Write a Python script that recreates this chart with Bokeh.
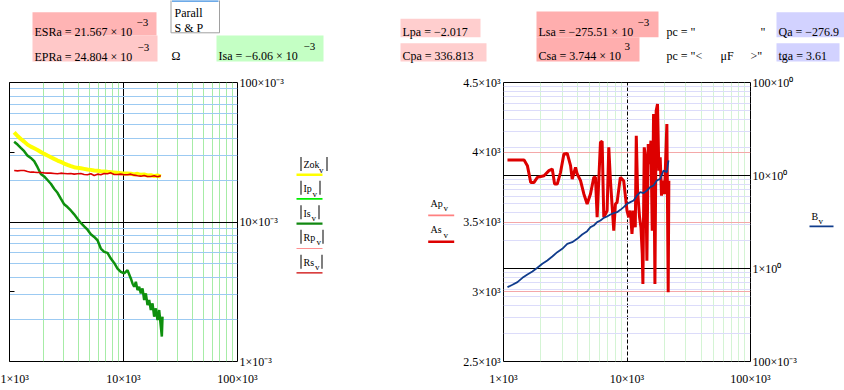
from bokeh.plotting import figure
from bokeh.models import (Range1d, LogScale, LinearScale, LinearAxis, LogAxis,
                          FixedTicker, Grid, Label, BoxAnnotation)
from bokeh.layouts import column, row
from bokeh.embed import file_html
from bokeh.resources import INLINE

# ---------------- data ----------------
freq_l = [1099, 1176, 1257, 1345, 1439, 1538, 1646, 1761, 1883, 2014, 2154, 2305, 2465, 2637, 2820,
          3017, 3227, 3451, 3692, 3949, 4224, 4518, 4833, 5170, 5530, 5915, 6327, 6768, 7240, 7743,
          8283, 8860, 9476, 10136, 10842, 11597, 12405, 13269, 14193, 15182, 16240, 17371, 18581,
          19875, 21259]
zok_v = [0.04394, 0.04135, 0.03937, 0.03769, 0.03587, 0.03471, 0.03377, 0.03286, 0.03180, 0.03077,
         0.02994, 0.02913, 0.02834, 0.02758, 0.02698, 0.02624, 0.02567, 0.02512, 0.02471, 0.02444,
         0.02430, 0.02404, 0.02378, 0.02364, 0.02338, 0.02326, 0.02313, 0.02301, 0.02288, 0.02276,
         0.02264, 0.02251, 0.02239, 0.02227, 0.02227, 0.02215, 0.02191, 0.02215, 0.02179, 0.02191,
         0.02155, 0.02167, 0.02131, 0.02155, 0.02120]
rs_v = [0.02338, 0.02326, 0.02338, 0.02338, 0.02301, 0.02276, 0.02276, 0.02264, 0.02264, 0.02251,
        0.02239, 0.02239, 0.02227, 0.02215, 0.02239, 0.02227, 0.02215, 0.02227, 0.02203, 0.02215,
        0.02227, 0.02191, 0.02179, 0.02215, 0.02155, 0.02203, 0.02179, 0.02227, 0.02215, 0.02251,
        0.02191, 0.02191, 0.02203, 0.02179, 0.02179, 0.02203, 0.02167, 0.02143, 0.02131, 0.02155,
        0.02120, 0.02120, 0.02143, 0.02108, 0.02143]
freq_g = [1099, 1176, 1257, 1345, 1439, 1538, 1646, 1761, 1883, 2014, 2154, 2305, 2465, 2637, 2820,
          3017, 3227, 3451, 3692, 3949, 4224, 4518, 4833, 5170, 5530, 5915, 6327, 6768, 7240, 7743,
          8283, 8860, 9476, 10136, 10842, 11597, 11993, 12405, 12833, 13269, 13728, 14193, 14678,
          15182, 15700, 16240, 16795, 17371, 17967, 18581, 19214, 19875, 20557, 21259, 21695, 21987]
is_v = [0.0376, 0.0359, 0.0340, 0.0322, 0.0299, 0.0288, 0.0273, 0.0247, 0.0221, 0.0212,
        0.0200, 0.0188, 0.0173, 0.0162, 0.0147, 0.0134, 0.0128, 0.0121, 0.01135, 0.01056,
        0.00984, 0.00931, 0.00881, 0.00816, 0.00781, 0.00740, 0.00645, 0.00611, 0.00601, 0.00547,
        0.00509, 0.00464, 0.00439, 0.00428, 0.00451, 0.003937, 0.003627, 0.003433, 0.003728,
        0.003249, 0.003433, 0.003076, 0.003340, 0.002758, 0.003076, 0.002540, 0.002758, 0.002339,
        0.002610, 0.002096, 0.002404, 0.001984, 0.002339, 0.001778, 0.001509, 0.002096]

freq_a = [1077, 1468, 1561, 1661, 1767, 1880, 2128, 2334, 2483, 2593, 2724, 2897, 3083, 3282, 3491,
          3600, 3831, 3953, 4205, 4474, 4757, 5062, 5386, 5556, 5731, 6097, 6289, 6487, 6902, 7120,
          7344, 7813, 8059, 8313, 8831, 9400, 10000, 10310, 10640, 10970, 11310, 11670, 11890, 12180,
          12640, 12970, 13290, 13450, 13790, 14130, 14490, 14860, 15230, 15620, 16010, 16410, 16830,
          17230, 17660, 18110, 18570, 19030, 19500, 20120, 21030, 21560, 21820]
as_v = [3944, 3944, 3904, 3784, 3784, 3820, 3832, 3868, 3880, 3772, 3772, 3856, 3987, 3992, 3904,
        3808, 3892, 3844, 3796, 3701, 3629, 3701, 3820, 3820, 3534, 4071, 4078, 3534, 3581, 4035,
        3796, 3438, 3629, 3641, 3820, 3796, 3581, 3534, 3581, 3415, 3581, 3462, 4118, 3725,
        3534, 3462, 3271, 3056, 4035, 3963, 3223, 4059, 3915, 4083, 3438, 4274, 3056,
        4297, 4345, 3868, 3963, 3689, 3796, 3701, 4202, 2996, 3796]
freq_b = [1077, 1182, 1297, 1423, 1562, 1714, 1880, 2063, 2264, 2484, 2726, 2991, 3282, 3601, 3952,
          4336, 4758, 5063, 5386, 5730, 6097, 6485, 6899, 7340, 7809, 8307, 8838, 9400, 10000, 10640,
          11318, 12040, 12808, 13625, 14495, 15420, 16404, 17451, 18564, 19749, 21009, 21670]
b_v = [0.630, 0.668, 0.713, 0.794, 0.862, 0.928, 1.017, 1.123, 1.219, 1.346, 1.498, 1.627, 1.842,
       1.920, 2.085, 2.321, 2.520, 2.782, 2.900, 3.149, 3.282, 3.506, 3.624, 3.808, 3.936, 4.034,
       4.274, 4.565, 4.959, 5.168, 5.386, 6.095, 6.621, 6.457, 6.897, 7.492, 7.807, 8.837, 9.210,
       11.32, 10.86, 14.50]

x_ticks = [1000, 10000, 100000]
x_minor = [2000, 3000, 4000, 5000, 6000, 7000, 8000, 9000,
           20000, 30000, 40000, 50000, 60000, 70000, 80000, 90000]
x_labels = {1000: "1×10³", 10000: "10×10³", 100000: "100×10³"}
yl_ticks = [0.001, 0.01, 0.1]
yl_minor = [0.002, 0.003, 0.004, 0.005, 0.006, 0.007, 0.008, 0.009,
            0.02, 0.03, 0.04, 0.05, 0.06, 0.07, 0.08, 0.09]
yl_labels = {0.001: "1×10⁻³", 0.01: "10×10⁻³", 0.1: "100×10⁻³"}
ya_ticks = [2500, 3000, 3500, 4000, 4500]
ya_labels = {2500: "2.5×10³", 3000: "3×10³", 3500: "3.5×10³", 4000: "4×10³", 4500: "4.5×10³"}
yb_ticks = [0.1, 1, 10, 100]
yb_minor = [0.2, 0.3, 0.4, 0.5, 0.6, 0.7, 0.8, 0.9, 2, 3, 4, 5, 6, 7, 8, 9,
            20, 30, 40, 50, 60, 70, 80, 90]
yb_labels = {0.1: "100×10⁻³", 1: "1×10⁰", 10: "10×10⁰", 100: "100×10⁰"}

FONT = "Liberation Serif"


def style_axis(ax, standoff):
    ax.axis_line_color = None
    ax.major_tick_in = 0
    ax.major_tick_out = 0
    ax.minor_tick_in = 0
    ax.minor_tick_out = 0
    ax.major_label_text_font = FONT
    ax.major_label_text_font_size = "12px"
    ax.major_label_text_color = "black"
    ax.major_label_standoff = standoff


def blank(width, height, xr, yr, bg="white"):
    f = figure(width=width, height=height, x_range=Range1d(*xr), y_range=Range1d(*yr),
               x_axis_location=None, y_axis_location=None, min_border=0,
               output_backend="svg", toolbar_location=None,
               background_fill_color=bg, border_fill_color=bg)
    f.outline_line_color = None
    for r in list(f.center):
        if isinstance(r, Grid):
            r.visible = False
    return f


def txt(f, x, y, s, size=12, color="black", align="left"):
    f.add_layout(Label(x=x, y=y, text=s, text_font=FONT, text_font_size=f"{size}px",
                       text_color=color, text_baseline="alphabetic", text_align=align))


def box(f, l, r, t, b, color, line=None):
    f.add_layout(BoxAnnotation(left=l, right=r, top=t, bottom=b, fill_color=color, fill_alpha=1,
                               line_color=line, line_alpha=1 if line else 0, line_width=1))


# ---------------- header ----------------
hdr = blank(844, 70, (0, 844), (70, 0))
box(hdr, 32, 156, 11.7, 35, "#ffb4b4")
box(hdr, 32, 157, 35, 61, "#ffc8c8")
box(hdr, 216, 323, 35, 61, "#c4ffc4")
box(hdr, 400, 480, 18.3, 36.7, "#ffcece")
box(hdr, 400, 486, 42.7, 61, "#ffcece")
box(hdr, 536, 658, 11, 36.7, "#ffaeae")
box(hdr, 536, 639, 36.7, 61, "#ffaeae")
box(hdr, 776, 846, 11.7, 36.7, "#d2d2ff")
box(hdr, 776, 839, 42.7, 61, "#d2d2ff")
box(hdr, 170.5, 219, -2, 32.3, "white", line="#a0a0a0")
box(hdr, 171.5, 218, -1, 1.3, "#3d8ee0")
txt(hdr, 174, 12.5, "Parall")
txt(hdr, 174, 27.5, "S & P")
txt(hdr, 34, 31, "ESRa = 21.567 × 10")
txt(hdr, 136, 22, "−3", 11)
txt(hdr, 34, 56, "EPRa = 24.804 × 10")
txt(hdr, 137, 47, "−3", 11)
txt(hdr, 171, 55, "Ω")
txt(hdr, 218, 55, "Isa = −6.06 × 10")
txt(hdr, 303, 46, "−3", 11)
txt(hdr, 402, 31, "Lpa = −2.017")
txt(hdr, 402, 55, "Cpa = 336.813")
txt(hdr, 538, 31, "Lsa = −275.51 × 10")
txt(hdr, 637, 22, "−3", 11)
txt(hdr, 538, 55, "Csa = 3.744 × 10")
txt(hdr, 624, 46, "3", 11)
txt(hdr, 666, 31, "pc = \"")
txt(hdr, 760, 31, "\"")
txt(hdr, 666, 55, "pc = \"<")
txt(hdr, 720, 55, "μF")
txt(hdr, 750, 55, ">\"")
txt(hdr, 778, 31, "Qa = −276.9")
txt(hdr, 778, 55, "tga = 3.61")

# ---------------- left plot ----------------
L = figure(x_axis_type="log", y_axis_type="log", x_range=Range1d(1e3, 1e5), y_range=Range1d(1e-3, 1e-1),
           frame_width=228, frame_height=279, min_border_left=9, min_border_right=53,
           min_border_top=12, min_border_bottom=24, y_axis_location="right",
           output_backend="svg", toolbar_location=None)
L.outline_line_color = "black"
L.outline_line_alpha = 1
xtL = FixedTicker(ticks=x_ticks, minor_ticks=x_minor)
ytL = FixedTicker(ticks=yl_ticks, minor_ticks=yl_minor)
L.xaxis.ticker = xtL
L.xgrid.ticker = xtL
L.yaxis.ticker = ytL
L.ygrid.ticker = ytL
L.xaxis.major_label_overrides = x_labels
L.yaxis.major_label_overrides = yl_labels
style_axis(L.xaxis[0], 10)
style_axis(L.yaxis[0], 2)
L.xgrid.grid_line_color = "black"
L.xgrid.minor_grid_line_color = "#a6eca6"
L.ygrid.grid_line_color = "black"
L.ygrid.minor_grid_line_color = "#9ccaf2"
L.extra_y_ranges = {"lt": Range1d(0, 4)}
L.extra_y_scales = {"lt": LinearScale()}
la = LinearAxis(y_range_name="lt", ticker=FixedTicker(ticks=[1, 2, 3]),
                major_label_overrides={1: "", 2: "", 3: ""}, major_tick_in=5, major_tick_out=0,
                minor_tick_in=0, minor_tick_out=0, major_label_standoff=0,
                axis_line_color="black", major_tick_line_color="black")
L.add_layout(la, "left")
L.line(freq_l, zok_v, line_color="#ffff00", line_width=4)
L.line(freq_g, is_v, line_color="#0e900e", line_width=2.5)
L.line(freq_l, rs_v, line_color="#dd0000", line_width=1.6)

# ---------------- legend strip between plots ----------------
LL = blank(170, 315, (290, 460), (385, 70))
left_legend = [("Zok", 164, 318.5, 326, 155, 171, "#ffff00", 175.3, 3),
               ("Ip", 191.5, 312, 319, 182, 198, "#00ee00", 202.7, 2),
               ("Is", 219, 311, 318, 210, 226, "#118811", 231, 2.5),
               ("Rp", 247, 316, 322, 238, 254, "#ff6a6a", 259.3, 1),
               ("Rs", 275, 314.5, 321, 266.5, 282.5, "#cc0000", 287.3, 1.5)]
for name, base, subx, rbar, t, b, col, ly, lw in left_legend:
    txt(LL, 303, base, name, 10)
    txt(LL, subx, base + 5.5, "v", 9)
    box(LL, 300, 301, t, b, "black")
    box(LL, rbar, rbar + 1, t, b, "black")
    box(LL, 296, 322, ly - lw / 2, ly + lw / 2, col)
txt(LL, 430, 208.3, "Ap", 10)
txt(LL, 443, 213.5, "v", 9)
box(LL, 427.7, 453.7, 220.7, 222.7, "#ff8080")
txt(LL, 430, 238.3, "As", 10)
txt(LL, 443, 243.5, "v", 9)
box(LL, 427.7, 453.7, 250.2, 253.2, "#dd0000")

# ---------------- right plot ----------------
R = figure(x_axis_type="log", x_range=Range1d(1e3, 1e5), y_range=Range1d(2500, 4500),
           frame_width=247, frame_height=279, min_border_left=43, min_border_right=52,
           min_border_top=12, min_border_bottom=24,
           output_backend="svg", toolbar_location=None)
R.outline_line_color = "black"
R.outline_line_alpha = 1
xtR = FixedTicker(ticks=x_ticks, minor_ticks=x_minor)
R.xaxis.ticker = xtR
R.xgrid.ticker = xtR
R.xaxis.major_label_overrides = x_labels
style_axis(R.xaxis[0], 10)
R.xgrid.grid_line_color = "black"
R.xgrid.grid_line_dash = "4 2"
R.xgrid.minor_grid_line_color = "#d4f4d4"
ytA = FixedTicker(ticks=ya_ticks)
R.yaxis.ticker = ytA
R.ygrid.ticker = ytA
R.yaxis.major_label_overrides = ya_labels
style_axis(R.yaxis[0], 3)
R.ygrid.grid_line_color = "#f4a8a8"
R.extra_y_ranges = {"r": Range1d(0.1, 100)}
R.extra_y_scales = {"r": LogScale()}
ytB = FixedTicker(ticks=yb_ticks, minor_ticks=yb_minor)
rax = LogAxis(y_range_name="r", ticker=ytB, major_label_overrides=yb_labels)
style_axis(rax, 2)
R.add_layout(rax, "right")
R.add_layout(Grid(dimension=1, y_range_name="r", ticker=ytB, grid_line_color="black",
                  minor_grid_line_color="#dcdcfa"))
R.line(freq_a, as_v, line_color="#dd0000", line_width=3)
R.line(freq_b, b_v, line_color="#103c8c", line_width=1.8, y_range_name="r")

# ---------------- right legend ----------------
RL = blank(42, 315, (802, 844), (385, 70))
txt(RL, 811, 223.3, "B", 10)
txt(RL, 818, 228.5, "v", 9)
box(RL, 809, 833, 233.3, 235.3, "#103c8c")

# ---------------- footer ----------------
foot = blank(844, 5, (0, 1), (0, 1), bg="#ececec")

layout = column(hdr, row(L, LL, R, RL), foot)
open("out.html", "w").write(file_html(layout, INLINE))
